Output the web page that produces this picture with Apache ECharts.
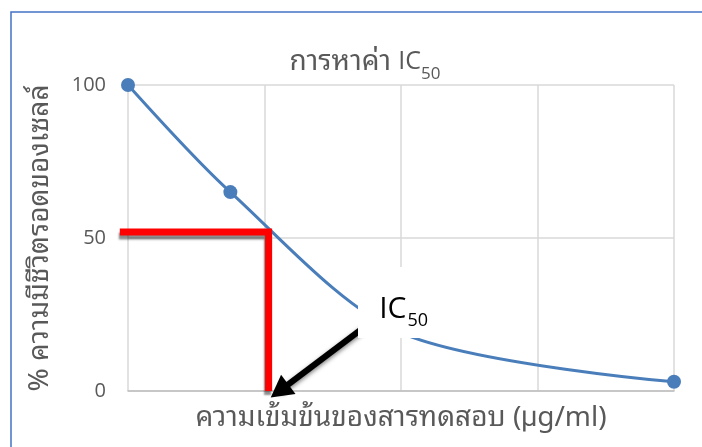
<!DOCTYPE html>
<html>
<head>
<meta charset="utf-8">
<script src="https://cdn.jsdelivr.net/npm/echarts@6/dist/echarts.min.js"></script>
<style>
  html, body { margin: 0; padding: 0; background: #ffffff; }
  #chart { width: 702px; height: 447px; }
</style>
</head>
<body>
<div id="chart"></div>
<script>
// Cell viability against test-substance concentration
const concentration = [0, 0.75, 2, 4];
const viability = [100, 65, 19, 3];
const showMarker = [true, true, false, true];

// IC50 read-off guide (red) and arrow pointing at the concentration axis
const guideX = [-0.06, 1.03, 1.03];
const guideY = [52, 52, 0];
const arrowFrom = [1.72, 20.5];
const arrowTo = [1.11, 0];

const yTicks = [0, 50, 100];

const titleThai = 'การหาค่า';
const titleLatin = 'IC';
const subText = '50';
const yName = '% ความมีชีวิตรอดของเซลล์';
const xName = 'ความเข้มข้นของสารทดสอบ (µg/ml)';

const FONT = '"Noto Sans Thai Looped", "Loma", "Garuda", "Noto Sans Thai", "Noto Sans", "Open Sans", sans-serif';
const LATIN = '"Open Sans", "Noto Sans", sans-serif';
const GREY = '#595959';

const chart = echarts.init(document.getElementById('chart'));

chart.setOption({
  animation: false,
  grid: { left: 128, right: 28, top: 85, bottom: 56 },
  xAxis: {
    type: 'value',
    min: 0, max: 4, interval: 1,
    axisLabel: { show: false },
    axisTick: { show: false },
    axisLine: { show: true, lineStyle: { color: '#bfbfbf', width: 1.5 } },
    splitLine: { show: true, lineStyle: { color: '#d9d9d9', width: 1.5 } },
    name: xName,
    nameLocation: 'middle',
    nameGap: 27,
    nameTextStyle: { fontFamily: FONT, fontSize: 28, color: GREY, verticalAlign: 'middle' }
  },
  yAxis: {
    type: 'value',
    min: 0, max: 100, interval: 50,
    axisLabel: {
      fontFamily: LATIN, fontSize: 20, color: GREY, margin: 22,
      formatter: v => (yTicks.indexOf(v) >= 0 ? String(v) : '')
    },
    axisTick: { show: false },
    axisLine: { show: false },
    splitLine: { show: true, lineStyle: { color: '#d9d9d9', width: 1.5 } },
    name: yName,
    nameLocation: 'middle',
    nameRotate: 90,
    nameGap: 88,
    nameTextStyle: { fontFamily: FONT, fontSize: 28, color: GREY, verticalAlign: 'middle' }
  },
  series: [
    {
      type: 'line',
      data: concentration.map((c, i) => ({
        value: [c, viability[i]],
        symbol: showMarker[i] ? 'circle' : 'none'
      })),
      smooth: 0.3,
      symbol: 'circle',
      symbolSize: 14,
      itemStyle: { color: '#4a7ebb' },
      lineStyle: { color: '#4a7ebb', width: 3 },
      z: 3
    },
    {
      // carries only the arrow; the red guide is drawn below from the same axes
      type: 'line',
      data: [],
      markLine: {
        silent: true,
        symbol: ['none', 'triangle'],
        symbolSize: [24, 22],
        label: { show: false },
        lineStyle: {
          type: 'solid', color: '#000000', width: 6,
          shadowColor: 'rgba(0,0,0,0.5)', shadowBlur: 4, shadowOffsetY: 2
        },
        itemStyle: { color: '#000000' },
        data: [[{ coord: arrowFrom }, { coord: arrowTo }]]
      }
    }
  ]
});

// Title, red IC50 guide and white "IC50" callout
function placeAnnotations() {
  const px = p => chart.convertToPixel({ gridIndex: 0 }, p);
  const guide = guideX.map((x, i) => px([x, guideY[i]]));
  const tl = px([1.685, 40.5]);
  const br = px([2.3, 17.3]);
  const anchor = px([2.04, 31.7]);
  chart.setOption({
    graphic: [
      {
        type: 'rect', id: 'frame', silent: true, z: 1,
        shape: { x: 11, y: 12, width: 900, height: 900 },
        style: { fill: 'none', stroke: '#4472c4', lineWidth: 1.5 }
      },
      {
        type: 'text', id: 'titleThai', silent: true, z: 5,
        x: 391, y: 62,
        style: {
          text: titleThai, fill: GREY, fontFamily: FONT, fontSize: 28,
          align: 'right', verticalAlign: 'middle'
        }
      },
      {
        type: 'text', id: 'titleLatin', silent: true, z: 5,
        x: 421, y: 62,
        style: {
          text: titleLatin, fill: GREY, fontFamily: LATIN, fontSize: 25,
          align: 'right', verticalAlign: 'middle'
        }
      },
      {
        type: 'text', id: 'titleSub', silent: true, z: 5,
        x: 421, y: 74,
        style: {
          text: subText, fill: GREY, fontFamily: LATIN, fontSize: 17,
          align: 'left', verticalAlign: 'middle'
        }
      },
      {
        type: 'polyline', id: 'guide', silent: true, z: 6,
        shape: { points: guide },
        style: {
          stroke: '#ff0000', lineWidth: 7, lineJoin: 'miter', lineCap: 'butt', fill: null,
          shadowColor: 'rgba(0,0,0,0.45)', shadowBlur: 2, shadowOffsetX: -1, shadowOffsetY: 4
        }
      },
      {
        type: 'rect', id: 'box', silent: true, z: 10,
        shape: { x: tl[0], y: tl[1], width: br[0] - tl[0], height: br[1] - tl[1] },
        style: { fill: '#ffffff' }
      },
      {
        type: 'text', id: 'ic', silent: true, z: 11,
        x: anchor[0], y: anchor[1],
        style: {
          text: 'IC', fill: '#000000', fontFamily: LATIN, fontSize: 30,
          align: 'right', verticalAlign: 'top'
        }
      },
      {
        type: 'text', id: 'ic50', silent: true, z: 11,
        x: anchor[0] + 1, y: anchor[1] + 18,
        style: {
          text: '50', fill: '#000000', fontFamily: LATIN, fontSize: 18,
          align: 'left', verticalAlign: 'top'
        }
      }
    ]
  });
}
placeAnnotations();
</script>
</body>
</html>
